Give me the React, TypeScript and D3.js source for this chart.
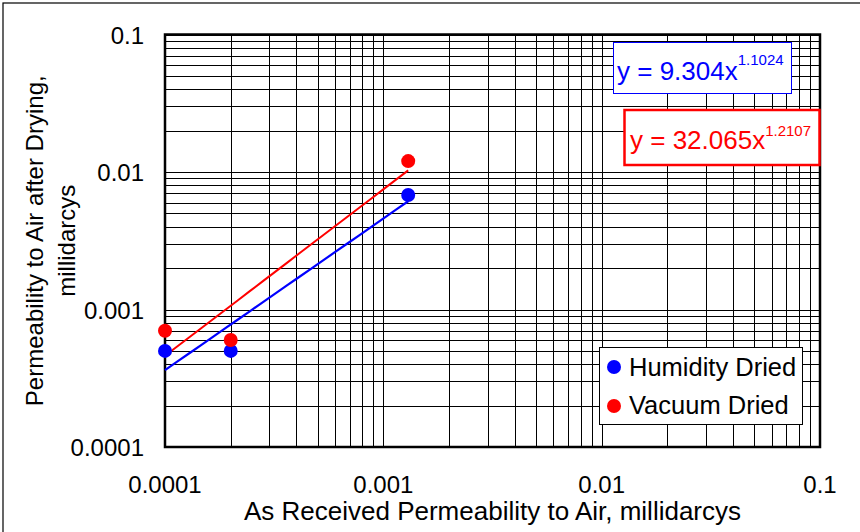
import React from "react";
import * as d3 from "d3";

// ---- data ----
const humidityX = [0.0001, 0.0002, 0.0013];
const humidityY = [0.0005, 0.0005, 0.0068];
const vacuumX = [0.0001, 0.0002, 0.0013];
const vacuumY = [0.0007, 0.0006, 0.012];
// power-law trendlines y = a * x^b
const humidityFit = { a: 9.304, b: 1.1024 };
const vacuumFit = { a: 32.065, b: 1.2107 };
const xTicks = [0.0001, 0.001, 0.01, 0.1];
const yTicks = [0.0001, 0.001, 0.01, 0.1];
const xTickLabels = ["0.0001", "0.001", "0.01", "0.1"];
const yTickLabels = ["0.0001", "0.001", "0.01", "0.1"];
const seriesNames = ["Humidity Dried", "Vacuum Dried"];

const W = 860;
const H = 532;
const FONT = "'Liberation Sans', Arial, sans-serif";
const left = 165, right = 820, top = 34.5, bottom = 447;

export default function App() {
  const x = d3.scaleLog().domain([0.0001, 0.1]).range([left, right]);
  const y = d3.scaleLog().domain([0.0001, 0.1]).range([bottom, top]);

  const minor: number[] = [];
  for (let e = -4; e < -1; e++) {
    for (let m = 1; m <= 10; m++) minor.push(m * Math.pow(10, e));
  }
  const snap = (v: number) => Math.round(v) + 0.5;

  const fitLine = (fit: { a: number; b: number }, xs: number[]) => {
    const x0 = d3.min(xs) as number;
    const x1 = d3.max(xs) as number;
    const pts: [number, number][] = d3.range(0, 21).map((i) => {
      const xv = Math.pow(10, Math.log10(x0) + (i / 20) * (Math.log10(x1) - Math.log10(x0)));
      return [xv, fit.a * Math.pow(xv, fit.b)];
    });
    return d3
      .line<[number, number]>()
      .x((d) => x(d[0]))
      .y((d) => y(d[1]))(pts) as string;
  };

  return (
    <svg
      width={W}
      height={H}
      style={{ position: "absolute", left: 0, top: 0, background: "#fff" }}
      fontFamily={FONT}
    >
      <rect x={0} y={0} width={W} height={H} fill="#fff" />
      {/* outer frame */}
      <rect x={3} y={3} width={W + 10} height={H + 10} fill="none" stroke="#000" strokeWidth={1.2} />

      {/* grid */}
      {minor.map((v, i) => (
        <line key={"gx" + i} x1={snap(x(v))} x2={snap(x(v))} y1={top} y2={bottom} stroke="#000" strokeWidth={1} />
      ))}
      {minor.map((v, i) => (
        <line key={"gy" + i} x1={left} x2={right} y1={snap(y(v))} y2={snap(y(v))} stroke="#000" strokeWidth={1} />
      ))}
      <rect x={left} y={top} width={right - left} height={bottom - top} fill="none" stroke="#000" strokeWidth={2.5} />

      {/* trendlines */}
      <path d={fitLine(vacuumFit, vacuumX)} fill="none" stroke="#ff0000" strokeWidth={2} />
      <path d={fitLine(humidityFit, humidityX)} fill="none" stroke="#0000ff" strokeWidth={2.2} />

      {/* points */}
      {humidityX.map((v, i) => (
        <circle key={"h" + i} cx={x(v)} cy={y(humidityY[i])} r={7} fill="#0000ff" />
      ))}
      {vacuumX.map((v, i) => (
        <circle key={"v" + i} cx={x(v)} cy={y(vacuumY[i])} r={7} fill="#ff0000" />
      ))}

      {/* y tick labels */}
      {yTicks.map((v, i) => (
        <text key={"yt" + i} x={144} y={y(v) + 9} fontSize={24} textAnchor="end" fill="#000">
          {yTickLabels[i]}
        </text>
      ))}
      {/* x tick labels */}
      {xTicks.map((v, i) => (
        <text key={"xt" + i} x={x(v)} y={493} fontSize={24} textAnchor="middle" fill="#000">
          {xTickLabels[i]}
        </text>
      ))}

      {/* axis titles */}
      <text x={(left + right) / 2} y={520} fontSize={26} textAnchor="middle" fill="#000">
        As Received Permeability to Air, millidarcys
      </text>
      <g transform={`translate(43, ${(top + bottom) / 2}) rotate(-90)`}>
        <text x={0} y={0} fontSize={24} textAnchor="middle" fill="#000">
          Permeability to Air after Drying,
        </text>
        <text x={0} y={32} fontSize={24} textAnchor="middle" fill="#000">
          millidarcys
        </text>
      </g>

      {/* equation boxes */}
      <rect x={613.5} y={42.5} width={178} height={51} fill="#fff" stroke="#0000ff" strokeWidth={1} />
      <text x={617} y={80} fontSize={26} fill="#0000ff">
        y = 9.304x
        <tspan fontSize={15} dy={-15}>{humidityFit.b.toFixed(4)}</tspan>
      </text>
      <rect x={624.5} y={110} width={195} height={55} fill="#fff" stroke="#ff0000" strokeWidth={2.5} />
      <text x={630} y={149} fontSize={26} fill="#ff0000">
        y = 32.065x
        <tspan fontSize={15} dy={-13}>{vacuumFit.b.toFixed(4)}</tspan>
      </text>

      {/* legend */}
      <rect x={599.5} y={347.5} width={203} height={77} fill="#fff" stroke="#000" strokeWidth={1} />
      <circle cx={614} cy={367} r={7} fill="#0000ff" />
      <text x={629} y={376} fontSize={25.5} fill="#000">{seriesNames[0]}</text>
      <circle cx={614} cy={406} r={7} fill="#ff0000" />
      <text x={629} y={414} fontSize={25.5} fill="#000">{seriesNames[1]}</text>
    </svg>
  );
}
